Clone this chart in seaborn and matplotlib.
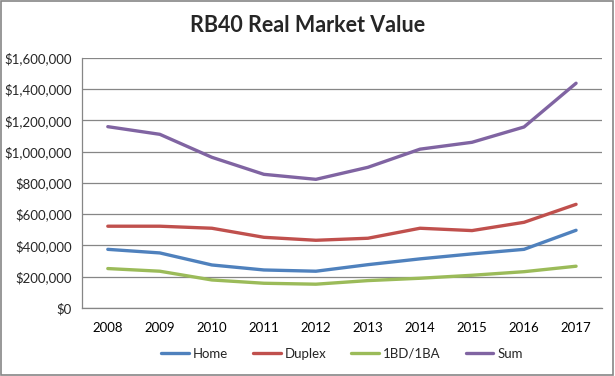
import matplotlib
matplotlib.use("Agg")
import matplotlib.pyplot as plt
import matplotlib.ticker as mticker
import pandas as pd
import seaborn as sns

years = ["2008", "2009", "2010", "2011", "2012", "2013", "2014", "2015", "2016", "2017"]
home = [375000, 352000, 275000, 243000, 235000, 277000, 314000, 346000, 375000, 497000]
duplex = [523000, 523000, 510000, 452000, 433000, 446000, 510000, 495000, 548000, 663000]
studio = [252000, 235000, 179000, 158000, 152000, 175000, 190000, 209000, 232000, 267000]
total = [1160000, 1111000, 964000, 855000, 823000, 900000, 1016000, 1060000, 1158000, 1438000]

series_names = ["Home", "Duplex", "1BD/1BA", "Sum"]
colors = ["#4F81BD", "#C0504D", "#9BBB59", "#8064A2"]

df = pd.DataFrame({"Year": years, "Home": home, "Duplex": duplex, "1BD/1BA": studio, "Sum": total})
long_df = df.melt(id_vars="Year", var_name="Series", value_name="Value")
long_df["x"] = long_df["Year"].map({y: i for i, y in enumerate(years)})

sns.set_style("white")
plt.rcParams["font.family"] = ["Lato", "DejaVu Sans"]

fig = plt.figure(figsize=(6.15, 3.76), dpi=100)
ax = fig.add_axes([0.133, 0.181, 0.846, 0.665])

sns.lineplot(data=long_df, x="x", y="Value", hue="Series", hue_order=series_names,
             palette=colors, linewidth=2.4, ax=ax, legend=True)

ax.set_xlim(-0.5, len(years) - 0.5)
ax.set_ylim(0, 1600000)
ax.yaxis.set_major_locator(mticker.MultipleLocator(200000))
ax.yaxis.set_major_formatter(mticker.FuncFormatter(lambda v, p: f"${v:,.0f}"))
ax.set_xticks(range(len(years)))
ax.set_xticklabels(years)
ax.set_xticks([i - 0.5 for i in range(len(years) + 1)], minor=True)
ax.tick_params(axis="x", which="major", length=0, pad=10, labelsize=9.5, colors="black")
ax.tick_params(axis="x", which="minor", length=4, color="#868686", direction="out")
ax.tick_params(axis="y", length=4, color="#868686", direction="out", labelsize=9.5, pad=3)
ax.grid(axis="y", color="#868686", linewidth=0.9)
ax.set_axisbelow(True)
for side in ["top", "right"]:
    ax.spines[side].set_visible(False)
for side in ["left", "bottom"]:
    ax.spines[side].set_color("#868686")
    ax.spines[side].set_linewidth(0.9)
ax.set_xlabel("")
ax.set_ylabel("")

handles, labels = ax.get_legend_handles_labels()
ax.legend(handles, labels, loc="center", bbox_to_anchor=(0.5, -0.184), ncol=4, frameon=False,
          fontsize=9.5, handlelength=2.1, handletextpad=0.3, columnspacing=1.9)

fig.text(0.5, 0.932, "RB40 Real Market Value", ha="center", va="center",
         fontsize=15.5, fontweight="bold")

fig.patches.append(plt.Rectangle((0.002, 0.003), 0.995, 0.994, transform=fig.transFigure,
                                 fill=False, edgecolor="#868686", linewidth=1.2))

fig.savefig("out.png", dpi=100)
